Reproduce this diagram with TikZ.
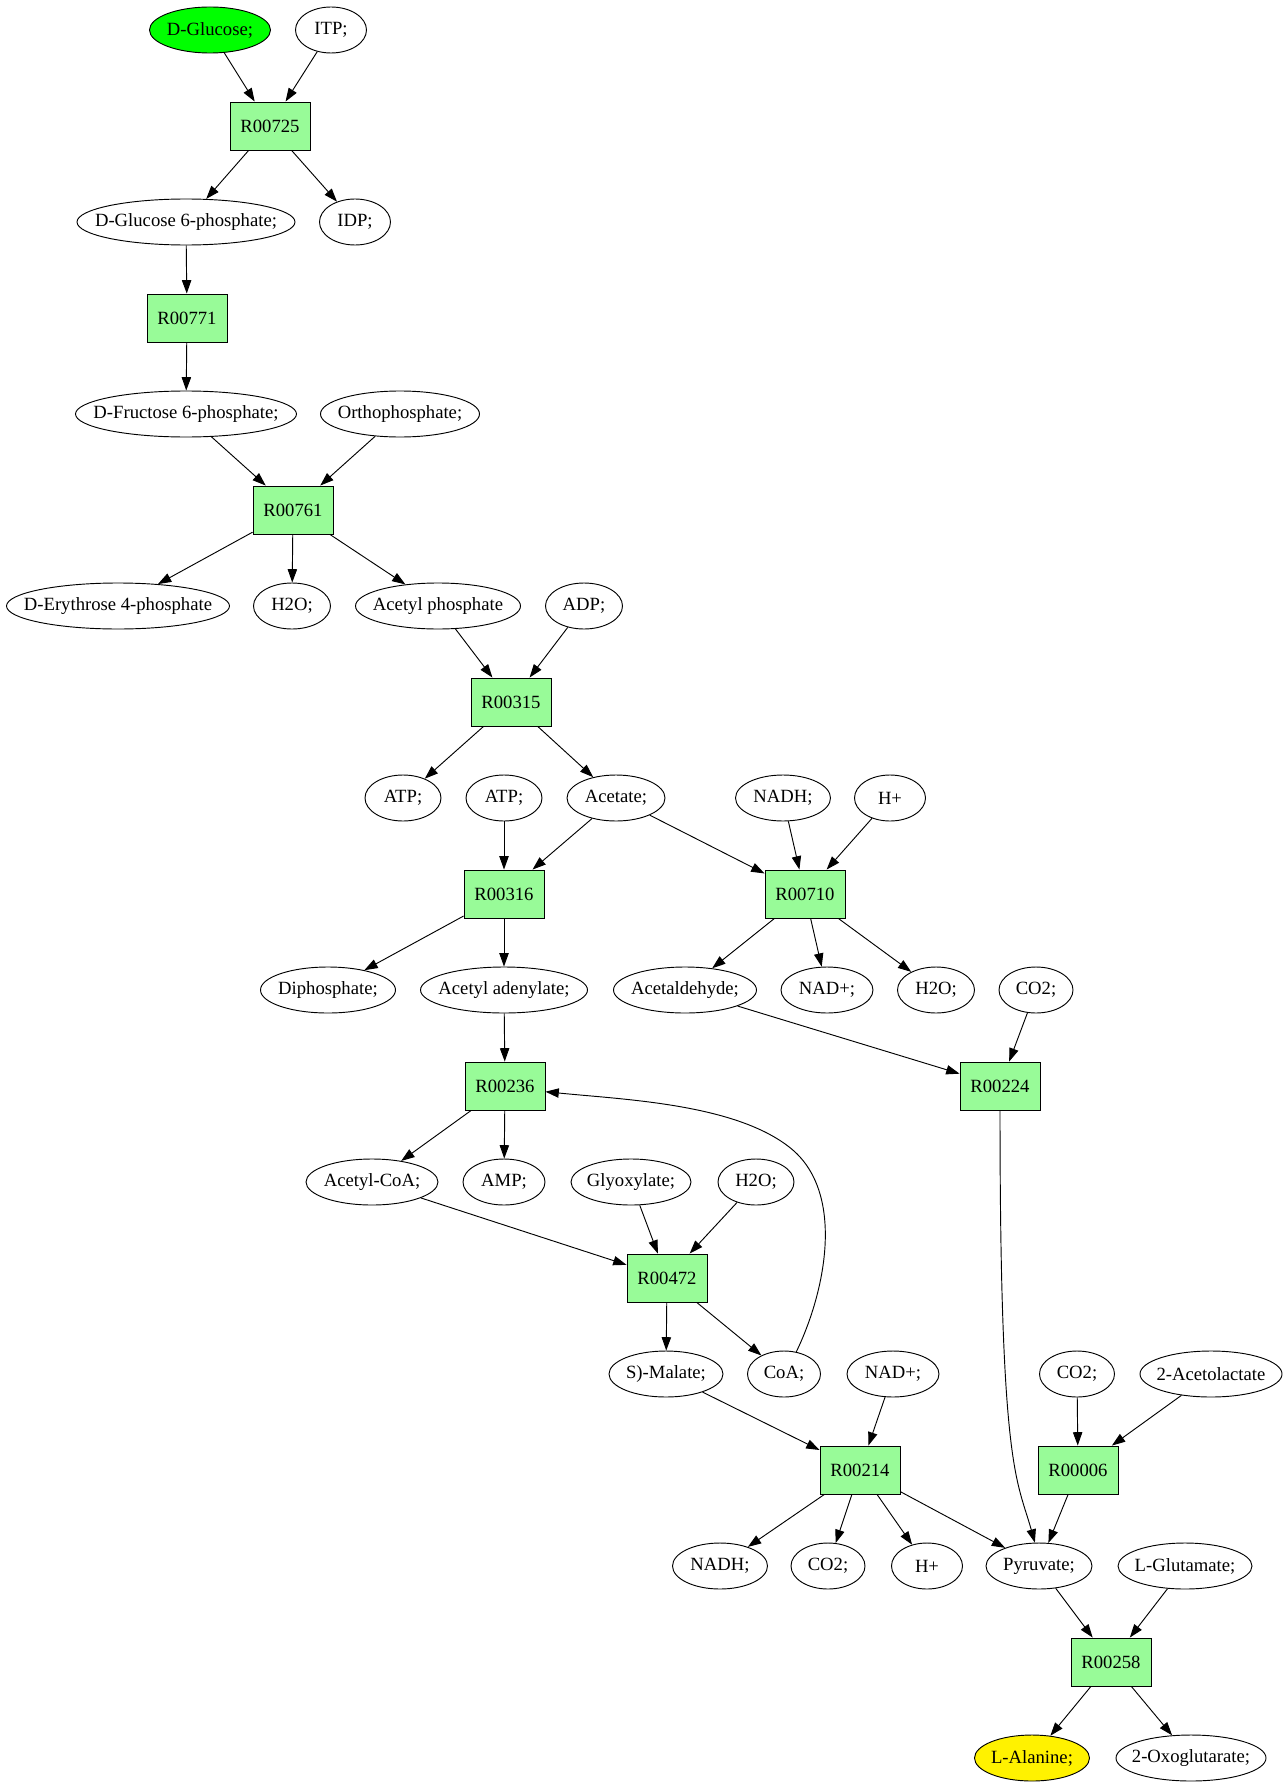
\documentclass[tikz,border=0pt]{standalone}
\usepackage{fontspec}
\setmainfont{Liberation Serif}
\usetikzlibrary{shapes.geometric,arrows.meta}
\definecolor{palegreen}{HTML}{98FB98}
\newcommand\lbl[1]{\makebox[0pt]{#1}}
\begin{document}
\begin{tikzpicture}[x=0.75pt,y=-0.75pt,
 mol/.style={ellipse,draw,line width=0.7pt,minimum height=34.5pt,minimum width=#1*0.75pt,inner sep=0pt,font=\fontsize{14}{16}\selectfont},
 rxn/.style={rectangle,draw,fill=palegreen,line width=0.7pt,minimum width=60pt,minimum height=36pt,inner sep=0pt,font=\fontsize{14}{16}\selectfont},
 arr/.style={-{Triangle[length=10pt,width=7pt]},line width=0.7pt}]
\useasboundingbox (0,0) rectangle (1287,1787);
\node[mol=121,fill=green] (glc) at (210,30) {\lbl{D-Glucose;}};
\node[mol=71] (itp) at (331,30) {\lbl{ITP;}};
\node[rxn] (r00725) at (270,126) {R00725};
\node[mol=218] (g6p) at (186,222) {\lbl{D-Glucose 6-phosphate;}};
\node[mol=71] (idp) at (355,222) {\lbl{IDP;}};
\node[rxn] (r00771) at (187,318) {R00771};
\node[mol=221] (f6p) at (186,414) {\lbl{D-Fructose 6-phosphate;}};
\node[mol=159] (pi) at (400,414) {\lbl{Orthophosphate;}};
\node[rxn] (r00761) at (293,510) {R00761};
\node[mol=223] (e4p) at (118,606) {\lbl{D-Erythrose 4-phosphate}};
\node[mol=77] (h2oa) at (292,606) {\lbl{H2O;}};
\node[mol=165] (acp) at (438,606) {\lbl{Acetyl phosphate}};
\node[mol=77] (adp) at (584,606) {\lbl{ADP;}};
\node[rxn] (r00315) at (511,702) {R00315};
\node[mol=76] (atpa) at (403,798) {\lbl{ATP;}};
\node[mol=76] (atpb) at (504,798) {\lbl{ATP;}};
\node[mol=98] (ac) at (616,798) {\lbl{Acetate;}};
\node[mol=95] (nadha) at (783,798) {\lbl{NADH;}};
\node[mol=71] (ha) at (890,798) {\lbl{H+}};
\node[rxn] (r00316) at (504,894) {R00316};
\node[rxn] (r00710) at (805,894) {R00710};
\node[mol=135] (ppi) at (328,990) {\lbl{Diphosphate;}};
\node[mol=167] (acad) at (504,990) {\lbl{Acetyl adenylate;}};
\node[mol=143] (acald) at (685,990) {\lbl{Acetaldehyde;}};
\node[mol=92] (nada) at (827,990) {\lbl{NAD+;}};
\node[mol=77] (h2ob) at (936,990) {\lbl{H2O;}};
\node[mol=74] (co2a) at (1036,990) {\lbl{CO2;}};
\node[rxn] (r00236) at (505,1086) {R00236};
\node[rxn] (r00224) at (1000,1086) {R00224};
\node[mol=132] (accoa) at (372,1182) {\lbl{Acetyl-CoA;}};
\node[mol=82] (amp) at (504,1182) {\lbl{AMP;}};
\node[mol=120] (glx) at (631,1182) {\lbl{Glyoxylate;}};
\node[mol=76] (h2oc) at (756,1182) {\lbl{H2O;}};
\node[rxn] (r00472) at (667,1278) {R00472};
\node[mol=114] (mal) at (666,1374) {\lbl{S)-Malate;}};
\node[mol=73] (coa) at (784,1374) {\lbl{CoA;}};
\node[mol=92] (nadb) at (893,1374) {\lbl{NAD+;}};
\node[mol=75] (co2b) at (1077,1374) {\lbl{CO2;}};
\node[mol=142] (acl) at (1211,1374) {\lbl{2-Acetolactate}};
\node[rxn] (r00214) at (860,1470) {R00214};
\node[rxn] (r00006) at (1078,1470) {R00006};
\node[mol=95] (nadhb) at (720,1566) {\lbl{NADH;}};
\node[mol=74] (co2c) at (828,1566) {\lbl{CO2;}};
\node[mol=71] (hb) at (927,1566) {\lbl{H+}};
\node[mol=106] (pyr) at (1039,1566) {\lbl{Pyruvate;}};
\node[mol=134] (glu) at (1185,1566) {\lbl{L-Glutamate;}};
\node[rxn] (r00258) at (1111,1662) {R00258};
\node[mol=115,fill=yellow] (ala) at (1032,1758) {\lbl{L-Alanine;}};
\node[mol=150] (akg) at (1191,1758) {\lbl{2-Oxoglutarate;}};
% edges
\draw[arr] (glc) -- (r00725);
\draw[arr] (itp) -- (r00725);
\draw[arr] (r00725) -- (g6p);
\draw[arr] (r00725) -- (idp);
\draw[arr] (g6p) -- (r00771);
\draw[arr] (r00771) -- (f6p);
\draw[arr] (f6p) -- (r00761);
\draw[arr] (pi) -- (r00761);
\draw[arr] (r00761) -- (e4p);
\draw[arr] (r00761) -- (h2oa);
\draw[arr] (r00761) -- (acp);
\draw[arr] (acp) -- (r00315);
\draw[arr] (adp) -- (r00315);
\draw[arr] (r00315) -- (atpa);
\draw[arr] (r00315) -- (ac);
\draw[arr] (atpb) -- (r00316);
\draw[arr] (ac) -- (r00316);
\draw[arr] (ac) -- (r00710);
\draw[arr] (nadha) -- (r00710);
\draw[arr] (ha) -- (r00710);
\draw[arr] (r00316) -- (ppi);
\draw[arr] (r00316) -- (acad);
\draw[arr] (r00710) -- (acald);
\draw[arr] (r00710) -- (nada);
\draw[arr] (r00710) -- (h2ob);
\draw[arr] (acad) -- (r00236);
\draw[arr] (acald) -- (r00224);
\draw[arr] (co2a) -- (r00224);
\draw[arr] (r00236) -- (accoa);
\draw[arr] (r00236) -- (amp);
\draw[arr] (accoa) -- (r00472);
\draw[arr] (glx) -- (r00472);
\draw[arr] (h2oc) -- (r00472);
\draw[arr] (r00472) -- (mal);
\draw[arr] (r00472) -- (coa);
\draw[arr] (coa.61) .. controls +(30,-62) and +(55,44) .. +(-6,-204) .. controls +(-55,-44) and +(80,8) .. (r00236.-8);
\draw[arr] (mal) -- (r00214);
\draw[arr] (nadb) -- (r00214);
\draw[arr] (co2b) -- (r00006);
\draw[arr] (acl) -- (r00006);
\draw[arr] (r00224.south) .. controls +(0,360) and +(-18,-64) .. (pyr.100);
\draw[arr] (r00214) -- (nadhb);
\draw[arr] (r00214) -- (co2c);
\draw[arr] (r00214) -- (hb);
\draw[arr] (r00214) -- (pyr);
\draw[arr] (r00006) -- (pyr);
\draw[arr] (pyr) -- (r00258);
\draw[arr] (glu) -- (r00258);
\draw[arr] (r00258) -- (ala);
\draw[arr] (r00258) -- (akg);
\end{tikzpicture}
\end{document}
